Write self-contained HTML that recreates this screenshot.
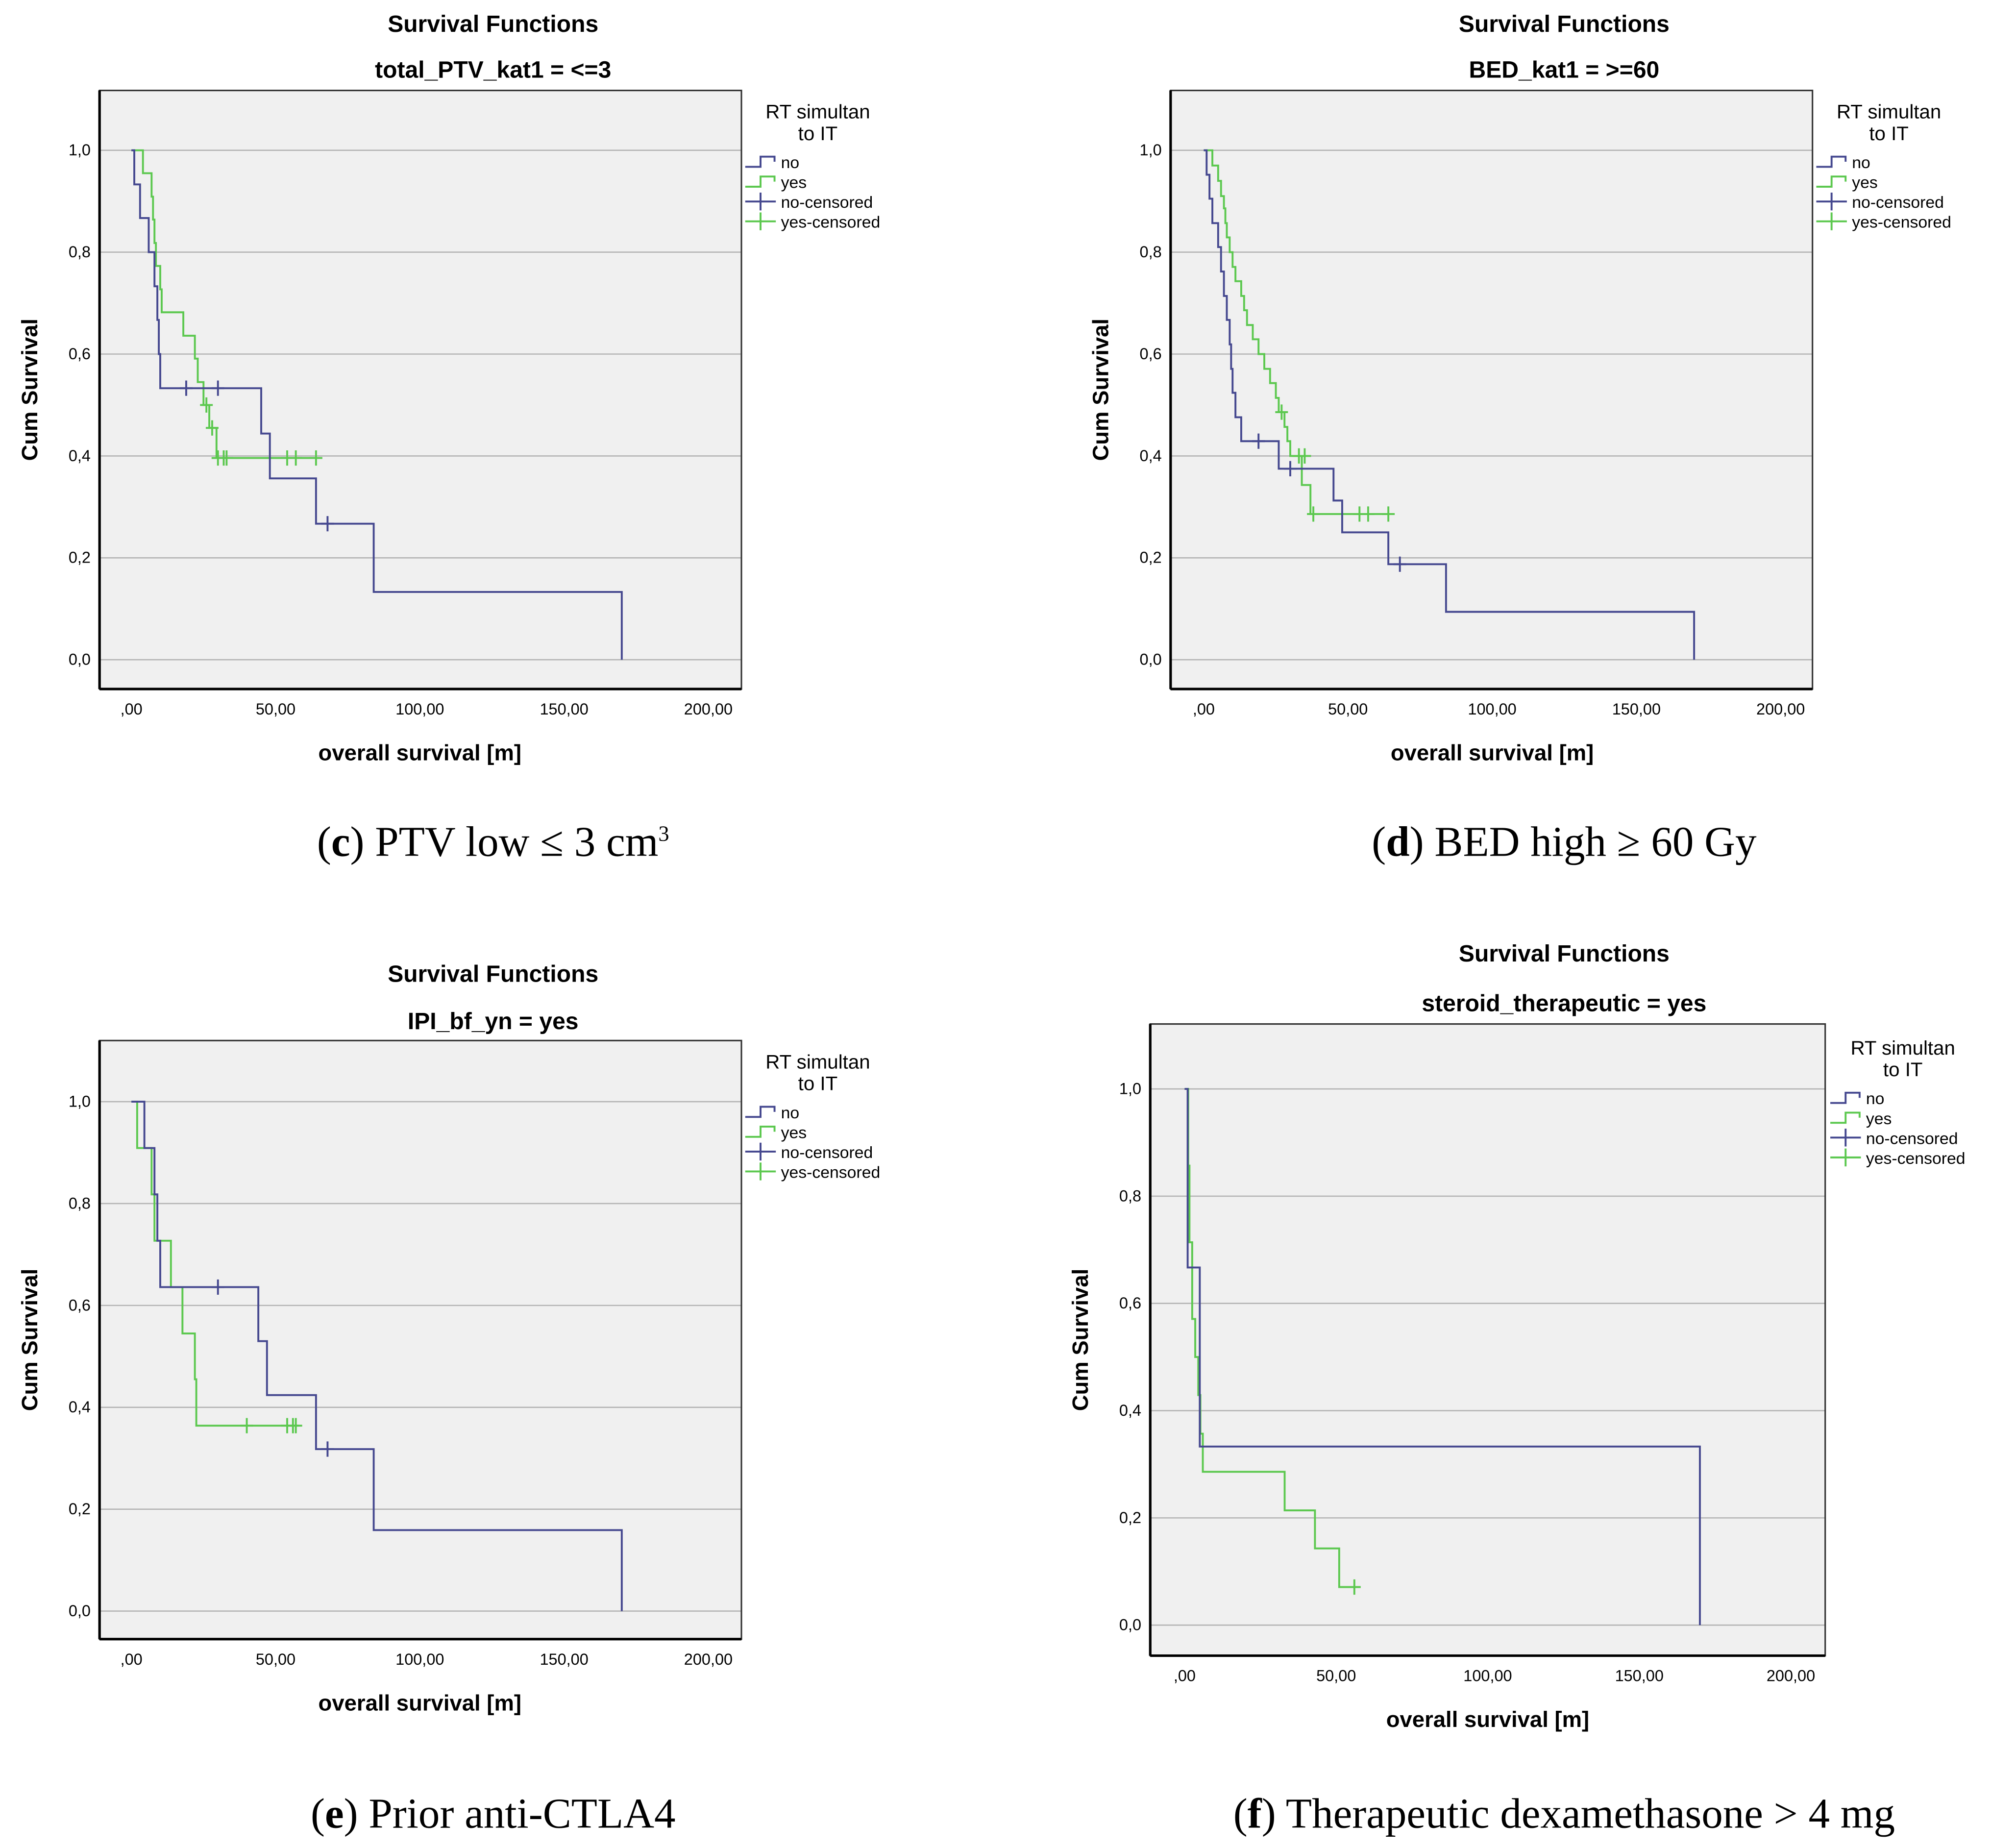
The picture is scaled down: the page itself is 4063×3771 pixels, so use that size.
<!DOCTYPE html>
<html><head><meta charset="utf-8"><style>
html,body{margin:0;padding:0;background:#fff}
svg{display:block}
text{font-family:"Liberation Sans","DejaVu Sans",sans-serif}
</style></head><body>
<svg id="fig" width="4063" height="3771" viewBox="0 0 1563 1451" xmlns="http://www.w3.org/2000/svg"></svg>
<script>
// ---- data ----
const cNoSteps=[[1,0.933],[3,0.867],[6,0.8],[8,0.733],[9,0.667],[9.5,0.6],[10,0.533],[45,0.444],[48,0.356],[64,0.267],[84,0.133],[170,0]];
const cNoCens=[[19,0.533],[30,0.533],[68,0.267]];
const cYesSteps=[[4,0.955],[7,0.909],[7.5,0.864],[8,0.818],[8.5,0.773],[10,0.727],[10.5,0.682],[18,0.636],[22,0.591],[23,0.545],[25,0.5],[27,0.455],[29.5,0.396]];
const cYesCens=[[26,0.5],[28,0.455],[30,0.396],[32,0.396],[33,0.396],[54,0.396],[57,0.396],[64,0.396]];
const dNoSteps=[[1,0.952],[2,0.905],[3,0.857],[5,0.81],[6,0.762],[7,0.714],[8,0.667],[9,0.619],[9.5,0.571],[10,0.524],[11,0.476],[13,0.429],[26,0.375],[45,0.3125],[48,0.25],[64,0.1875],[84,0.094],[170,0]];
const dNoCens=[[19,0.429],[30,0.375],[68,0.1875]];
const dYesSteps=[[3,0.97],[5,0.94],[6,0.91],[7,0.886],[7.5,0.857],[8,0.829],[9,0.8],[10,0.771],[11,0.743],[13,0.714],[14,0.686],[15,0.657],[17,0.629],[19,0.6],[21,0.571],[23,0.543],[25,0.514],[26,0.486],[28,0.457],[29,0.429],[30,0.4],[34,0.343],[37,0.286]];
const dYesCens=[[27,0.486],[33,0.4],[35,0.4],[38,0.286],[54,0.286],[57,0.286],[64,0.286]];
const eNoSteps=[[4.5,0.909],[8,0.818],[9,0.727],[10,0.636],[44,0.53],[47,0.424],[64,0.318],[84,0.159],[170,0]];
const eNoCens=[[30,0.636],[68,0.318]];
const eYesSteps=[[2,0.909],[7,0.818],[8,0.727],[13.7,0.636],[17.7,0.545],[22,0.455],[22.5,0.364]];
const eYesCens=[[40,0.364],[54,0.364],[56,0.364],[57,0.364]];
const fNoSteps=[[1,0.667],[5,0.333],[170,0]];
const fNoCens=[];
const fYesSteps=[[1.2,0.857],[1.6,0.714],[2.5,0.571],[3.5,0.5],[4.5,0.429],[5.2,0.357],[6,0.286],[33,0.214],[43,0.143],[51,0.071]];
const fYesCens=[[56,0.071]];
const xTicks=[0,50,100,150,200];
const xTickLabels=[",00","50,00","100,00","150,00","200,00"];
const yTicks=[0,0.2,0.4,0.6,0.8,1.0];
const yTickLabels=["0,0","0,2","0,4","0,6","0,8","1,0"];
const legendLabels=["no","yes","no-censored","yes-censored"];
</script>
<script>
const NS="http://www.w3.org/2000/svg";
const svg=document.getElementById('fig');
const BLUE="#45488f",GREEN="#5cc84f";
function mk(tag,parent,attrs){const e=document.createElementNS(NS,tag);for(const k in attrs)e.setAttribute(k,attrs[k]);parent.appendChild(e);return e;}
function txt(parent,x,y,s,size,weight,anchor,fam){const t=mk('text',parent,{x:x,y:y,'font-size':size,'font-weight':weight||'normal','text-anchor':anchor||'middle',fill:'#000'});if(fam)t.setAttribute('style','font-family:'+fam);t.textContent=s;return t;}
const panels=[
 {id:'c',L:78,R:582,T:71,B:541,x0:103,xu:2.265,y0:518,yu:400,t1:'Survival Functions',t2:'total_PTV_kat1 = <=3',tx:387,ty:19,ty2:55,cap:['c',') PTV low ≤ 3 cm','3'],capx:387,capy:662,no:cNoSteps,noC:cNoCens,yes:cYesSteps,yesC:cYesCens,lx:585,ly:87},
 {id:'d',L:919,R:1423,T:71,B:541,x0:945,xu:2.265,y0:518,yu:400,t1:'Survival Functions',t2:'BED_kat1 = >=60',tx:1228,ty:19,ty2:55,cap:['d',') BED high ≥ 60 Gy',''],capx:1228,capy:662,no:dNoSteps,noC:dNoCens,yes:dYesSteps,yesC:dYesCens,lx:1426,ly:87},
 {id:'e',L:78,R:582,T:817,B:1287,x0:103,xu:2.265,y0:1265,yu:400,t1:'Survival Functions',t2:'IPI_bf_yn = yes',tx:387,ty:765,ty2:802,cap:['e',') Prior anti-CTLA4',''],capx:387,capy:1425,no:eNoSteps,noC:eNoCens,yes:eYesSteps,yesC:eYesCens,lx:585,ly:833},
 {id:'f',L:903,R:1433,T:804,B:1300,x0:930,xu:2.38,y0:1276,yu:421,t1:'Survival Functions',t2:'steroid_therapeutic = yes',tx:1228,ty:749,ty2:788,cap:['f',') Therapeutic dexamethasone > 4 mg',''],capx:1228,capy:1425,no:fNoSteps,noC:fNoCens,yes:fYesSteps,yesC:fYesCens,lx:1437,ly:822}
];
panels.forEach(p=>{
 const g=mk('g',svg,{});
 
 
 const X=t=>p.x0+t*p.xu, Y=s=>p.y0-s*p.yu;
 const bg=mk('rect',g,{x:p.L,y:p.T,width:p.R-p.L,height:p.B-p.T,fill:'#f0f0f0',stroke:'none'});
 
 
 yTicks.forEach((v,i)=>{
  const gl=mk('line',g,{x1:p.L,x2:p.R,y1:Y(v),y2:Y(v),stroke:'#b4b4b4','stroke-width':1});
  
  
  const tl=txt(g,p.L-7,Y(v)+4,yTickLabels[i],12.5,'normal','end');
  
  
 });
 xTicks.forEach((v,i)=>{
  const tl=txt(g,X(v),p.B+20,xTickLabels[i],12.5,'normal','middle');
  
  
 });
 const fr=mk('path',g,{d:`M${p.L} ${p.T}H${p.R}V${p.B}H${p.L}Z`,fill:'none',stroke:'#333','stroke-width':1.2});
 
 
 mk('line',g,{x1:p.L,x2:p.R,y1:p.B,y2:p.B,stroke:'#000','stroke-width':2});
 mk('line',g,{x1:p.L,x2:p.L,y1:p.T,y2:p.B,stroke:'#000','stroke-width':2});
 function curve(steps,cens,col,name){
  let d=`M${X(0)} ${Y(1)}`;
  steps.forEach(s=>{d+=`H${X(s[0])}V${Y(s[1])}`;});
  let last=steps[steps.length-1];
  let maxC=cens.length?Math.max(...cens.map(c=>c[0])):0;
  if(maxC>last[0]) d+=`H${X(maxC)}`;
  const pa=mk('path',g,{d:d,fill:'none',stroke:col,'stroke-width':1.5});
  
  
  cens.forEach(c=>{
   const m=mk('path',g,{d:`M${X(c[0])} ${Y(c[1])-6}V${Y(c[1])+6}M${X(c[0])-5} ${Y(c[1])}H${X(c[0])+5}`,stroke:col,'stroke-width':1.5,fill:'none'});
   
   
  });
 }
 curve(p.yes,p.yesC,GREEN,'yes');
 curve(p.no,p.noC,BLUE,'no');
 const t1=txt(g,p.tx,p.ty+6,p.t1,18.5,'bold');
 
 
 const t2=txt(g,p.tx,p.ty2+6,p.t2,18.5,'bold');
 
 
 const xl=txt(g,(X(0)+X(200))/2,p.B+56,'overall survival [m]',17.5,'bold');
 
 
 const ym=(p.T+p.B)/2;
 const yl=txt(g,0,0,'Cum Survival',17.5,'bold');
 yl.setAttribute('transform',`translate(${p.L-49},${ym}) rotate(-90)`);
 
 
 const lg=mk('g',g,{});
 
 
 const lcx=p.lx+57;
 txt(lg,lcx,p.ly+6,'RT simultan',15.5,'normal');
 txt(lg,lcx,p.ly+23,'to IT',15.5,'normal');
 legendLabels.forEach((lab,i)=>{
  const yy=p.ly+40+i*15.6;const col=i%2?GREEN:BLUE;
  const e=mk('g',lg,{});
  
  
  if(i<2) mk('path',e,{d:`M${p.lx} ${yy+4}H${p.lx+12}V${yy-4}H${p.lx+23}V${yy}`,fill:'none',stroke:col,'stroke-width':1.5});
  else mk('path',e,{d:`M${p.lx} ${yy}H${p.lx+24}M${p.lx+12} ${yy-7}V${yy+7}`,fill:'none',stroke:col,'stroke-width':1.5});
  txt(e,p.lx+28,yy+5,lab,13,'normal','start');
 });
 const cap=mk('text',g,{x:p.capx,y:p.capy+10,'font-size':33.5,'text-anchor':'middle',fill:'#000',style:'font-family:"Liberation Serif",serif'});
 
 
 const a=mk('tspan',cap,{});a.textContent='(';
 const b=mk('tspan',cap,{'font-weight':'bold'});b.textContent=p.cap[0];
 const c=mk('tspan',cap,{});c.textContent=p.cap[1];
 if(p.cap[2]){const s=mk('tspan',cap,{'font-size':17,dy:-12});s.textContent=p.cap[2];}
});
</script>
</body></html>
